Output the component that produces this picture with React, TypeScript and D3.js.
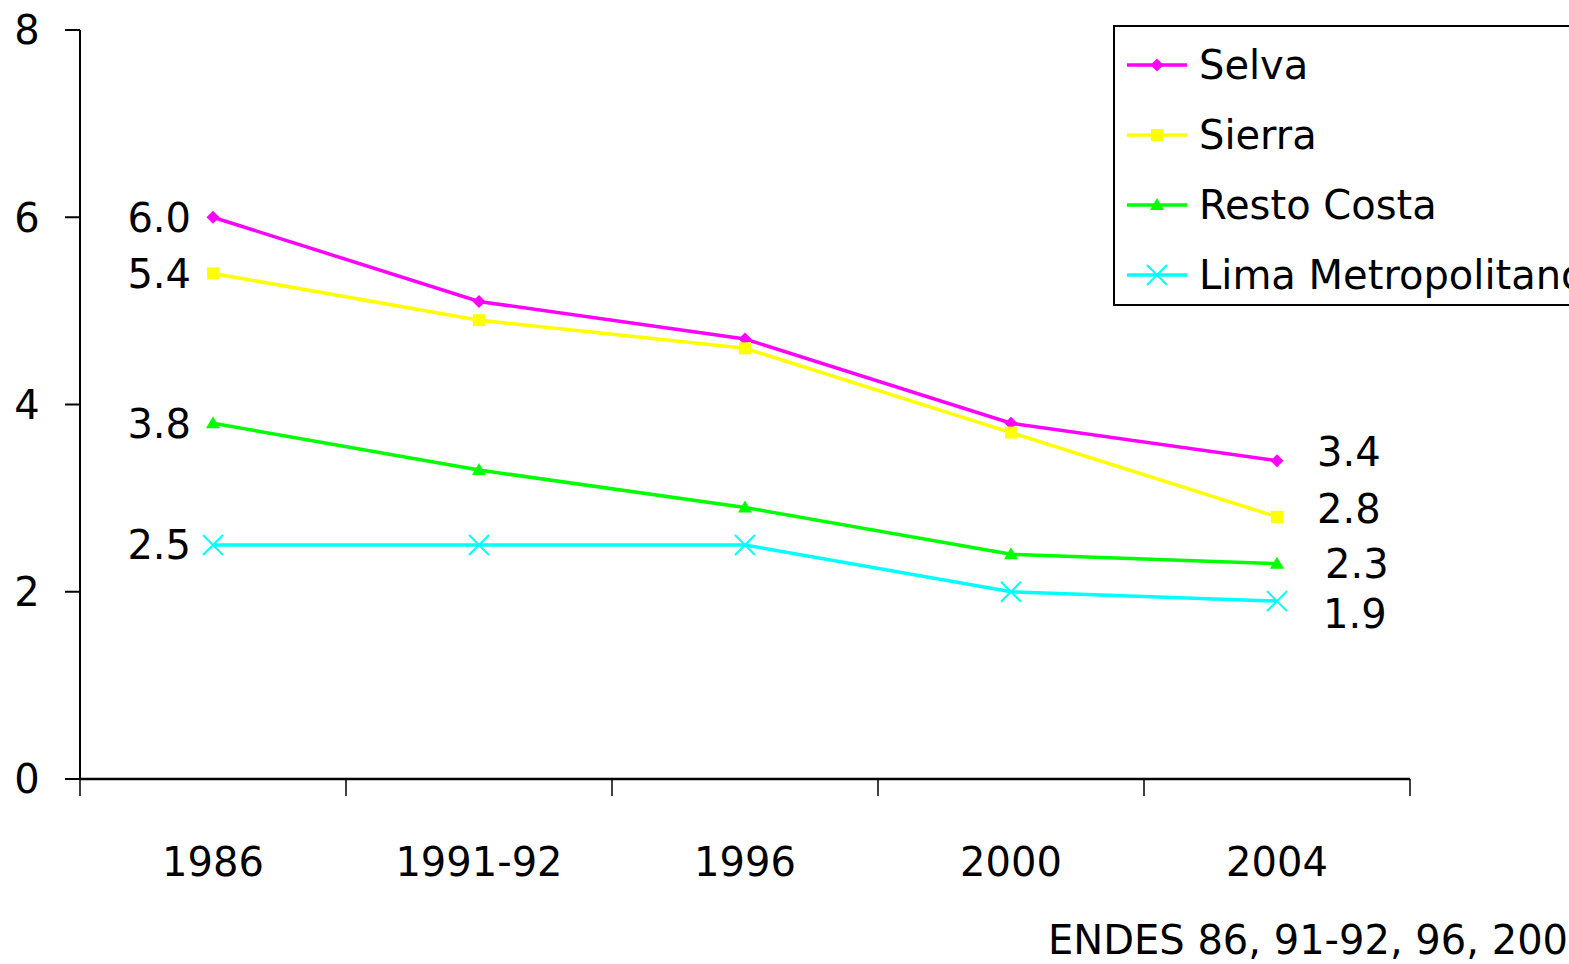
import React from "react";
import * as d3 from "d3";

const categories = ["1986", "1991-92", "1996", "2000", "2004"];
const seriesNames = ["Selva", "Sierra", "Resto Costa", "Lima Metropolitano"];
const selva = [6.0, 5.1, 4.7, 3.8, 3.4];
const sierra = [5.4, 4.9, 4.6, 3.7, 2.8];
const restoCosta = [3.8, 3.3, 2.9, 2.4, 2.3];
const lima = [2.5, 2.5, 2.5, 2.0, 1.9];
const yTicks = [0, 2, 4, 6, 8];
const sourceText = "ENDES 86, 91-92, 96, 2000, 2004";

const colors = ["#FF00FF", "#FFFF00", "#00FF00", "#00FFFF"];
const markers = ["diamond", "square", "triangle", "x"];
const FONT = "'Comic Sans MS', 'DejaVu Sans', sans-serif";

function Marker({ type, x, y, color }: { type: string; x: number; y: number; color: string }) {
  if (type === "diamond") {
    const s = 6.5;
    return <path d={`M${x},${y - s}L${x + s},${y}L${x},${y + s}L${x - s},${y}Z`} fill={color} />;
  }
  if (type === "square") {
    return <rect x={x - 6} y={y - 6} width={12} height={12} fill={color} />;
  }
  if (type === "triangle") {
    return <path d={`M${x},${y - 7}L${x + 7},${y + 5}L${x - 7},${y + 5}Z`} fill={color} />;
  }
  const s = 10;
  return (
    <path
      d={`M${x - s},${y - s}L${x + s},${y + s}M${x - s},${y + s}L${x + s},${y - s}`}
      stroke={color}
      strokeWidth={2}
    />
  );
}

export default function App() {
  const W = 1569;
  const H = 964;
  const left = 80;
  const right = 1410;
  const top = 30;
  const bottom = 779;
  const data = [selva, sierra, restoCosta, lima];

  const x = d3.scaleBand<string>().domain(categories).range([left, right]).padding(0);
  const y = d3.scaleLinear().domain([0, 8]).range([bottom, top]);
  const cx = (c: string) => (x(c) as number) + x.bandwidth() / 2;
  const line = d3
    .line<number>()
    .x((_, i) => cx(categories[i]))
    .y((d) => y(d));

  const rightLabelDx = [40, 40, 48, 46];
  const rightLabelDy = [-9, -8, 0, 12];
  const last = categories.length - 1;

  const tickEdges = [...categories.map((c) => x(c) as number), right];

  return (
    <svg
      width={W}
      height={H}
      style={{ position: "absolute", left: 0, top: 0, background: "#fff" }}
      fontFamily={FONT}
    >
      {/* Y axis */}
      <line x1={left} x2={left} y1={top} y2={bottom} stroke="#000" strokeWidth={2} />
      {yTicks.map((t) => (
        <g key={t}>
          <line x1={left - 15} x2={left} y1={y(t)} y2={y(t)} stroke="#000" strokeWidth={2} />
          <text x={27} y={y(t)} dy="0.36em" fontSize={40} textAnchor="middle" fill="#000">
            {t}
          </text>
        </g>
      ))}
      {/* X axis */}
      <line x1={left} x2={right} y1={bottom} y2={bottom} stroke="#000" strokeWidth={2.5} />
      {tickEdges.map((e, i) => (
        <line key={i} x1={e} x2={e} y1={bottom} y2={bottom + 17} stroke="#000" strokeWidth={1.5} />
      ))}
      {categories.map((c) => (
        <text key={c} x={cx(c)} y={862} dy="0.36em" fontSize={40} textAnchor="middle" fill="#000">
          {c}
        </text>
      ))}

      {/* Lines */}
      {data.map((vals, si) => (
        <g key={si}>
          <path d={line(vals) || ""} fill="none" stroke={colors[si]} strokeWidth={3.5} />
          {vals.map((v, i) => (
            <Marker key={i} type={markers[si]} x={cx(categories[i])} y={y(v)} color={colors[si]} />
          ))}
          <text
            x={cx(categories[0]) - 22}
            y={y(vals[0])}
            dy="0.36em"
            fontSize={40}
            textAnchor="end"
            fill="#000"
          >
            {vals[0].toFixed(1)}
          </text>
          <text
            x={cx(categories[last]) + rightLabelDx[si]}
            y={y(vals[last]) + rightLabelDy[si]}
            dy="0.36em"
            fontSize={40}
            textAnchor="start"
            fill="#000"
          >
            {vals[last].toFixed(1)}
          </text>
        </g>
      ))}

      {/* Legend */}
      <rect x={1114} y={26} width={480} height={279} fill="#fff" stroke="#000" strokeWidth={2} />
      {seriesNames.map((n, i) => {
        const ly = 65 + i * 70;
        return (
          <g key={n}>
            <line x1={1127} x2={1187} y1={ly} y2={ly} stroke={colors[i]} strokeWidth={3.5} />
            <Marker type={markers[i]} x={1157} y={ly} color={colors[i]} />
            <text x={1199} y={ly} dy="0.36em" fontSize={40} fill="#000">
              {n}
            </text>
          </g>
        );
      })}

      {/* Source */}
      <text x={1048} y={940} dy="0.36em" fontSize={40} fill="#000">
        {sourceText}
      </text>
    </svg>
  );
}
